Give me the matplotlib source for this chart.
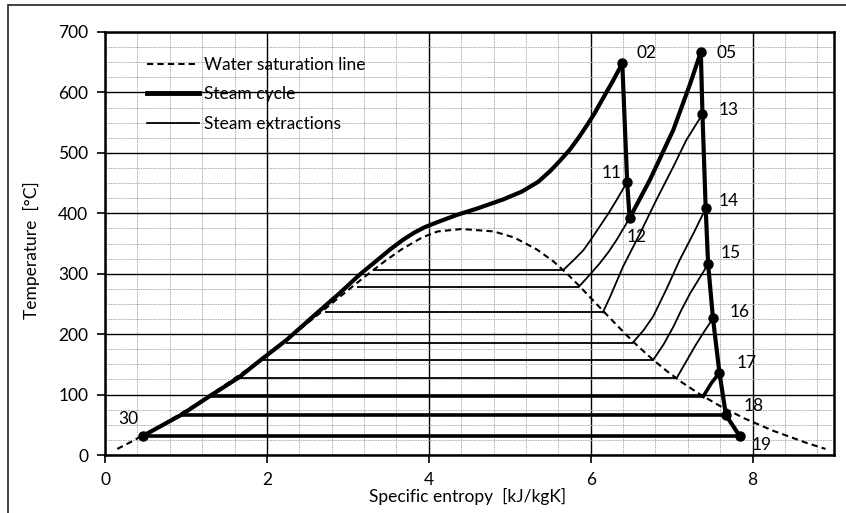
import numpy as np
import matplotlib
matplotlib.use("Agg")
import matplotlib.pyplot as plt
from matplotlib.ticker import MultipleLocator
from matplotlib.lines import Line2D
from matplotlib.patches import Rectangle

plt.rcParams['font.family'] = ['Lato', 'DejaVu Sans']
FS = 12.5

# water saturation line (liquid branch, then vapour branch)
sat_s = [0.151, 0.2965, 0.5724, 0.8312, 1.0753, 1.3069, 1.5279, 1.7392, 1.9426, 2.1392,
         2.3305, 2.5177, 2.7020, 2.8849, 3.0685, 3.2552, 3.4494, 3.6601, 3.9167, 4.1112,
         4.407, 4.7996, 5.0536, 5.3359, 5.5423, 5.7081, 5.8571, 5.9989, 6.1413, 6.2854,
         6.4302, 6.5835, 6.7491, 6.9293, 7.1277, 7.3544, 7.6111, 7.9080, 8.2556, 8.6661, 8.8999]
sat_T = [10, 20, 40, 60, 80, 100, 120, 140, 160, 180,
         200, 220, 240, 260, 280, 300, 320, 340, 360, 370,
         373.95, 370, 360, 340, 320, 300, 280, 260, 240, 220,
         200, 180, 160, 140, 120, 100, 80, 60, 40, 20, 10]

# feedwater heating + boiler, 30 -> 02
heat_s = [0.466, 0.95, 1.30, 1.65, 1.94, 2.24, 2.61, 2.90, 3.15, 3.35, 3.52, 3.68, 3.82,
          3.95, 4.10, 4.34, 4.60, 4.92, 5.15, 5.35, 5.50, 5.62, 5.74, 5.85, 5.95, 6.05,
          6.15, 6.27, 6.39]
heat_T = [31.4, 67, 98, 128, 159, 190, 234, 268, 299, 321, 340, 356, 368,
          377, 385, 397, 408, 423, 436, 452, 470, 487, 505, 525, 545, 566,
          590, 618, 648]

# HP turbine 02 -> 11 -> 12
hp_s = [6.39, 6.45, 6.48]
hp_T = [648, 452, 392]

# reheat 12 -> 05
rh_s = [6.48, 6.73, 7.02, 7.23, 7.36]
rh_T = [392, 455, 538, 615, 667]

# IP/LP turbine 05 -> 13 -> ... -> 19
lp_s = [7.36, 7.38, 7.42, 7.45, 7.51, 7.59, 7.67, 7.84]
lp_T = [667, 564, 408, 316, 226, 136, 66, 31.4]

# condensing lines (sat. liquid -> sat. vapour)
cond_T = [306, 278, 236, 186, 157, 127, 97, 66, 31.4]
cond_s_left = [3.31, 3.11, 2.72, 2.24, 1.935, 1.65, 1.28, 0.947, 0.466]
cond_s_right = [5.66, 5.85, 6.15, 6.52, 6.77, 7.06, 7.39, 7.67, 7.84]
cond_thick = [False, False, False, False, False, False, True, True, True]

# steam extraction curves (from dome up to turbine point)
ext_11_s = [5.66, 5.80, 5.91, 6.01, 6.11, 6.22, 6.32, 6.45]
ext_11_T = [306, 324, 339, 358, 378, 400, 422, 452]
ext_12_s = [5.85, 5.98, 6.11, 6.22, 6.32, 6.48]
ext_12_T = [278, 297, 317, 336, 356, 392]
ext_13_s = [6.15, 6.24, 6.40, 6.61, 6.81, 7.02, 7.18, 7.38]
ext_13_T = [236, 262, 312, 367, 422, 477, 521, 564]
ext_14_s = [6.52, 6.65, 6.77, 6.93, 7.10, 7.27, 7.42]
ext_14_T = [186, 206, 229, 273, 323, 367, 408]
ext_15_s = [6.77, 6.90, 7.02, 7.12, 7.23, 7.34, 7.45]
ext_15_T = [157, 183, 212, 240, 268, 292, 316]
ext_16_s = [7.06, 7.18, 7.31, 7.41, 7.51]
ext_16_T = [127, 155, 185, 206, 226]
ext_17_s = [7.39, 7.49, 7.59]
ext_17_T = [97, 119, 136]

# state points with markers
pt_s = [6.39, 6.45, 6.48, 7.36, 7.38, 7.42, 7.45, 7.51, 7.59, 7.67, 7.84, 0.466]
pt_T = [648, 452, 392, 667, 564, 408, 316, 226, 136, 66, 31.4, 31.4]

# point labels
lab_names = ['02', '05', '13', '11', '12', '14', '15', '16', '17', '18', '19', '30']
lab_s = [6.69, 7.68, 7.70, 6.26, 6.57, 7.70, 7.73, 7.84, 7.93, 8.01, 8.11, 0.284]
lab_T = [665, 666, 571, 467, 361, 420, 334, 237, 152, 81, 16.5, 59.5]

fig = plt.figure(figsize=(8.46, 5.13), dpi=100)
ax = fig.add_axes([105 / 846, 58 / 513, 728.6 / 846, 423 / 513])

ax.set_xlim(0, 9)
ax.set_ylim(0, 700)
ax.xaxis.set_major_locator(MultipleLocator(2))
ax.xaxis.set_minor_locator(MultipleLocator(0.4))
ax.yaxis.set_major_locator(MultipleLocator(100))
ax.yaxis.set_minor_locator(MultipleLocator(25))
ax.grid(which='minor', color='#a8a8a8', lw=0.6, ls=(0, (2, 1)))
ax.grid(which='major', color='black', lw=1.0)
ax.set_axisbelow(True)
ax.tick_params(which='major', direction='out', length=6, width=1.2, labelsize=FS, pad=6)
ax.tick_params(which='minor', length=0)
for sp in ax.spines.values():
    sp.set_linewidth(1.8)

# saturation line
ax.plot(sat_s, sat_T, color='black', lw=1.5, ls=(0, (3, 2)), zorder=3)

# condensing lines
for T, sl, sr, thick in zip(cond_T, cond_s_left, cond_s_right, cond_thick):
    ax.plot([sl, sr], [T, T], color='black', lw=2.6 if thick else 1.3, zorder=4,
            solid_capstyle='butt')

# extraction curves
for xs, ys in [(ext_11_s, ext_11_T), (ext_12_s, ext_12_T), (ext_13_s, ext_13_T),
               (ext_14_s, ext_14_T), (ext_15_s, ext_15_T), (ext_16_s, ext_16_T)]:
    ax.plot(xs, ys, color='black', lw=1.3, zorder=4)
ax.plot(ext_17_s, ext_17_T, color='black', lw=2.6, zorder=4)

# steam cycle
for xs, ys in [(heat_s, heat_T), (hp_s, hp_T), (rh_s, rh_T), (lp_s, lp_T)]:
    ax.plot(xs, ys, color='black', lw=3.0, zorder=5, solid_joinstyle='round')
ax.plot(pt_s, pt_T, 'o', color='black', ms=6.5, zorder=6)

for name, s, T in zip(lab_names, lab_s, lab_T):
    ax.text(s, T, name, fontsize=FS, ha='center', va='center', zorder=7)

handles = [Line2D([], [], color='black', lw=1.5, ls=(0, (3, 2))),
           Line2D([], [], color='black', lw=3.5),
           Line2D([], [], color='black', lw=1.3)]
labels = ['Water saturation line', 'Steam cycle', 'Steam extractions']
ax.legend(handles, labels, loc='upper left', bbox_to_anchor=(0.057, 0.941),
          frameon=False, fontsize=FS, handlelength=3.0, handletextpad=0.3,
          labelspacing=0.78, borderaxespad=0, borderpad=0)

fig.text(468 / 846, 1 - 496 / 513, 'Specific entropy  [kJ/kgK]', fontsize=FS,
         ha='center', va='center')
fig.text(31 / 846, 1 - 250 / 513, 'Temperature  [°C]', fontsize=FS,
         ha='center', va='center', rotation=90)

fig.patches.append(Rectangle((8 / 846, -0.02), 1.0, 1 - 5 / 513 + 0.02,
                             transform=fig.transFigure, fill=False,
                             edgecolor='#222222', lw=1.2))

fig.savefig('out.png', dpi=100)
